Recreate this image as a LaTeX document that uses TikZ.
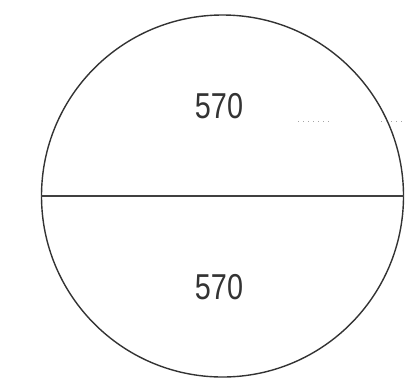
\documentclass[tikz,border=0pt]{standalone}
\usepackage{fontspec}
\usepackage{tikz}
\usetikzlibrary{positioning,calc}
\newfontfamily\dimfont[FakeStretch=0.8]{Liberation Sans}

\begin{document}
\begin{tikzpicture}[
    x=1pt, y=-1pt,
    disk/.style={circle, draw=black!80, line width=1.4pt, minimum size=362pt, inner sep=0pt},
    cut/.style={draw=black!75, line width=1.4pt},
    dim/.style={font=\dimfont\fontsize{36}{36}\selectfont, text=black!80, inner sep=0pt},
    speck/.style={draw=black!35, line width=1pt, dash pattern=on 1pt off 4pt},
]
\useasboundingbox (0,0) rectangle (409,381);

% Round plate split in two halves
\node[disk] (plate) at (222.5, 196) {};
\draw[cut] (plate.west) -- (plate.east);

% Dimensions of the two halves
\node[dim] (top) at (219, 106) {570};
\node[dim] (bot) at (219, 287) {570};

% Faint marks on the right
\coordinate (s1) at (298, 121);
\coordinate (s2) at (330, 121);
\coordinate (s3) at (381, 121);
\coordinate (s4) at (405, 121);
\draw[speck] (s1) -- (s2);
\draw[speck] (s3) -- (s4);
\end{tikzpicture}
\end{document}
